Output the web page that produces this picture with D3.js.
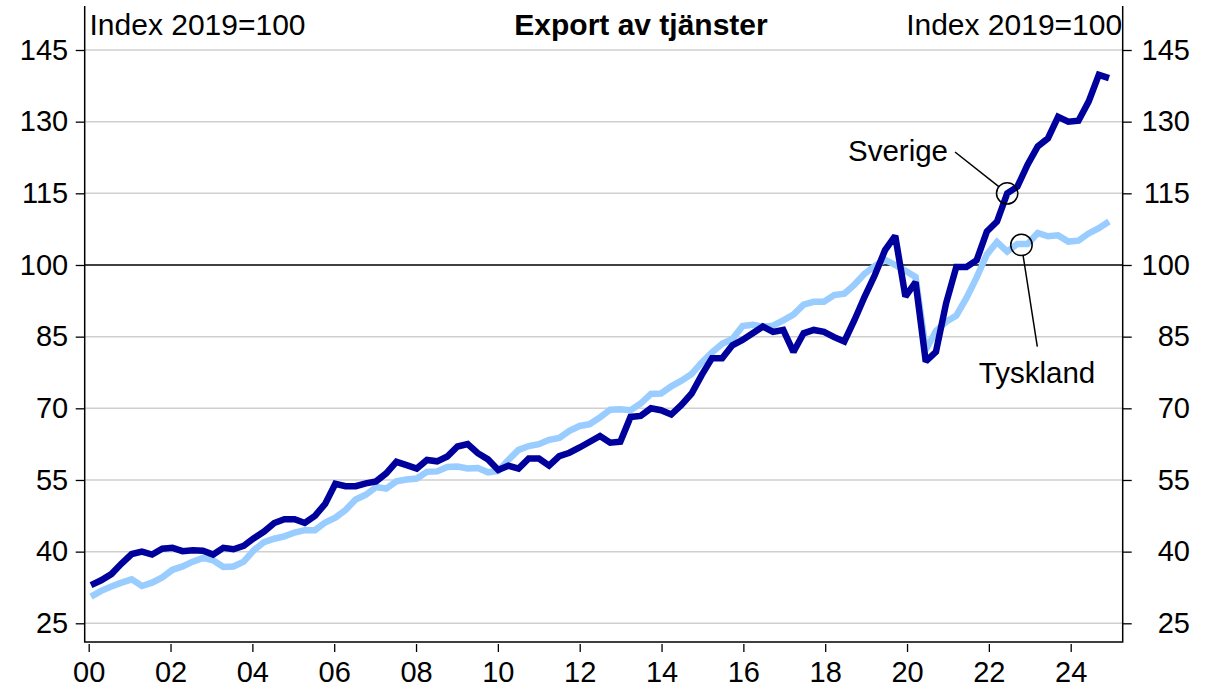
<!DOCTYPE html>
<html>
<head>
<meta charset="utf-8">
<script src="https://cdn.jsdelivr.net/npm/d3@7"></script>
<style>
  html, body { margin: 0; padding: 0; background: #fff; }
  svg { display: block; font-family: "Liberation Sans", Arial, sans-serif; }
</style>
</head>
<body>
<svg id="chart" width="1206" height="688"></svg>
<script>
// ---- Data (quarterly, 2000Q1 .. 2025Q1), Index 2019=100 ----
const sverige = [
  33.0, 34.0, 35.3, 37.5, 39.5, 40.0, 39.4, 40.6, 40.8, 40.1,
  40.3, 40.2, 39.4, 40.8, 40.5, 41.2, 42.8, 44.2, 46.0, 46.8,
  46.8, 46.0, 47.5, 50.0, 54.2, 53.7, 53.7, 54.3, 54.7, 56.4,
  58.8, 58.1, 57.4, 59.2, 58.9, 59.9, 62.0, 62.5, 60.6, 59.3,
  57.1, 58.0, 57.4, 59.5, 59.5, 58.0, 60.0, 60.7, 61.8, 63.0,
  64.2, 62.8, 63.0, 68.2, 68.4, 70.0, 69.6, 68.7, 70.7, 73.1,
  77.0, 80.5, 80.5, 83.2, 84.3, 85.7, 87.1, 86.0, 86.4, 81.8,
  85.7, 86.4, 86.0, 84.9, 84.0, 88.5, 93.4, 97.9, 103.1, 106.1,
  93.4, 96.4, 79.8, 81.8, 92.0, 99.6, 99.6, 101.0, 107.0, 109.1,
  115.0, 116.4, 121.0, 124.8, 126.5, 131.0, 130.0, 130.2, 134.2, 139.8,
  139.1
];
const tyskland = [
  30.6, 31.8, 32.7, 33.5, 34.2, 32.8, 33.5, 34.6, 36.2, 36.9,
  37.9, 38.7, 38.2, 36.8, 36.9, 37.9, 40.3, 42.0, 42.7, 43.2,
  44.0, 44.5, 44.5, 46.1, 47.1, 48.7, 50.9, 51.9, 53.5, 53.2,
  54.7, 55.1, 55.3, 56.7, 56.8, 57.7, 57.8, 57.4, 57.5, 56.6,
  56.9, 59.2, 61.3, 62.1, 62.5, 63.4, 63.8, 65.3, 66.3, 66.7,
  68.1, 69.7, 69.8, 69.6, 71.0, 73.0, 73.1, 74.6, 75.8, 77.2,
  79.6, 81.7, 83.5, 84.5, 87.2, 87.5, 87.1, 87.3, 88.4, 89.6,
  91.7, 92.3, 92.3, 93.7, 94.0, 95.9, 98.2, 99.8, 101.1, 100.0,
  98.8, 97.5, 82.2, 86.2, 88.1, 89.4, 93.1, 97.4, 102.2, 104.8,
  102.8, 104.4, 104.4, 106.7, 106.0, 106.2, 104.9, 105.1, 106.6, 107.7,
  109.1
];
const yTicks = [25, 40, 55, 70, 85, 100, 115, 130, 145];
const xTickYears = [2000, 2002, 2004, 2006, 2008, 2010, 2012, 2014, 2016, 2018, 2020, 2022, 2024];
const titleText = "Export av tjänster";
const unitText = "Index 2019=100";
const seriesNames = ["Sverige", "Tyskland"];

// ---- Layout ----
const L = 84.7, R = 1122.7, T = 6, B = 642;
const svg = d3.select("#chart");

const y = d3.scaleLinear().domain([25, 145]).range([623.3, 50]);
const xTime = d3.scaleLinear().domain([2000, 2024]).range([88.7, 1070.7]);
const xIdx = d3.scaleLinear().domain([0, sverige.length - 1]).range([91, 1109]);

// grid lines
svg.append("g").selectAll("line").data(yTicks).join("line")
  .attr("x1", L).attr("x2", R)
  .attr("y1", d => y(d)).attr("y2", d => y(d))
  .attr("stroke", d => d === 100 ? "#000" : "#cfcfcf")
  .attr("stroke-width", 1.5);

// left axis
const gl = svg.append("g").attr("transform", `translate(${L},0)`)
  .call(d3.axisLeft(y).tickValues(yTicks).tickSize(9).tickPadding(7.5));
gl.select(".domain").remove();
gl.selectAll(".tick line").attr("stroke", "#000").attr("stroke-width", 1.3);
gl.selectAll(".tick text").attr("font-size", 29).attr("fill", "#000")
  .attr("font-family", "Liberation Sans, Arial, sans-serif");

// right axis
const gr = svg.append("g").attr("transform", `translate(${R},0)`)
  .call(d3.axisRight(y).tickValues(yTicks).tickSize(9));
gr.select(".domain").remove();
gr.selectAll(".tick line").attr("stroke", "#000").attr("stroke-width", 1.3);
gr.selectAll(".tick text").attr("font-size", 29).attr("fill", "#000")
  .attr("text-anchor", "end").attr("x", 1190 - R)
  .attr("font-family", "Liberation Sans, Arial, sans-serif");

// bottom axis
const gb = svg.append("g").attr("transform", `translate(0,${B + 2})`)
  .call(d3.axisBottom(xTime).tickValues(xTickYears).tickSize(8).tickPadding(9)
    .tickFormat(d => String(d % 100).padStart(2, "0")));
gb.select(".domain").remove();
gb.selectAll(".tick line").attr("stroke", "#000").attr("stroke-width", 1.3);
gb.selectAll(".tick text").attr("font-size", 29).attr("fill", "#000")
  .attr("font-family", "Liberation Sans, Arial, sans-serif");

// frame (left, bottom, right)
svg.append("path")
  .attr("d", `M${L},${T} V${B} H${R} V${T}`)
  .attr("fill", "none").attr("stroke", "#000").attr("stroke-width", 1.5);

// lines
const line = d3.line().x((d, i) => xIdx(i)).y(d => y(d));
svg.append("path").datum(tyskland).attr("d", line)
  .attr("fill", "none").attr("stroke", "#99ccff").attr("stroke-width", 6.5)
  .attr("stroke-linejoin", "miter").attr("stroke-miterlimit", 2);
svg.append("path").datum(sverige).attr("d", line)
  .attr("fill", "none").attr("stroke", "#00009c").attr("stroke-width", 6.5)
  .attr("stroke-linejoin", "miter").attr("stroke-miterlimit", 2);

// header texts
svg.append("text").attr("x", 89.5).attr("y", 35).attr("font-size", 30).text(unitText);
svg.append("text").attr("x", R - 0.5).attr("y", 35).attr("font-size", 30)
  .attr("text-anchor", "end").text(unitText);
svg.append("text").attr("x", 641).attr("y", 35).attr("font-size", 30)
  .attr("font-weight", "bold").attr("text-anchor", "middle").text(titleText);

// annotations
const rC = 10.7;
function annotate(idx, val, labelX, labelY, anchor, lx, ly, name) {
  const cx = xIdx(idx), cy = y(val);
  svg.append("circle").attr("cx", cx).attr("cy", cy).attr("r", rC)
    .attr("fill", "none").attr("stroke", "#000").attr("stroke-width", 1.5);
  const dx = lx - cx, dy = ly - cy, len = Math.hypot(dx, dy);
  svg.append("line").attr("x1", cx + rC * dx / len).attr("y1", cy + rC * dy / len)
    .attr("x2", lx).attr("y2", ly).attr("stroke", "#000").attr("stroke-width", 1.5);
  svg.append("text").attr("x", labelX).attr("y", labelY).attr("font-size", 29.5)
    .attr("text-anchor", anchor).text(name);
}
annotate(90, sverige[90], 948, 161, "end", 955, 152, seriesNames[0]);
annotate(91.4, 104.2, 1037, 383, "middle", 1037.3, 346.7, seriesNames[1]);
</script>
</body>
</html>
